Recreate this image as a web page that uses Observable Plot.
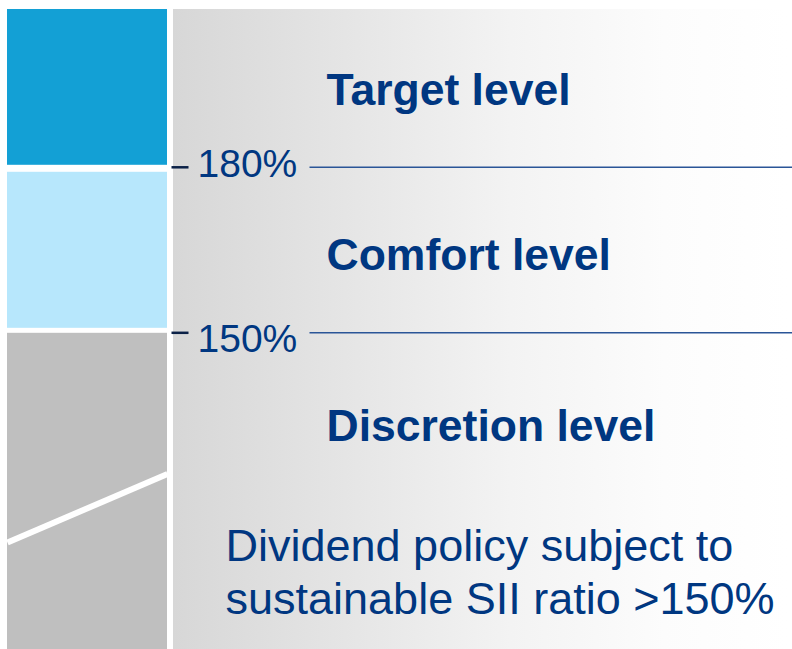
<!DOCTYPE html>
<html>
<head>
<meta charset="utf-8">
<script src="https://cdn.jsdelivr.net/npm/d3@7"></script>
<script src="https://cdn.jsdelivr.net/npm/@observablehq/plot@0.6"></script>
<style>
  html, body { margin: 0; padding: 0; background: #ffffff; }
  #chart svg { display: block; }
</style>
</head>
<body>
<div id="chart"></div>
<script>
// ---- data ----
const levels = ["Target level", "Comfort level", "Discretion level"];
const levelLow = [180, 150, 92.6];      // SII ratio (%) lower bound of each zone
const levelHigh = [208.6, 180, 150];    // SII ratio (%) upper bound of each zone
const levelLabelY = [193.8, 163.9, 132.9];
const thresholds = [180, 150];
const thresholdLabels = ["180%", "150%"];
const noteLines = ["Dividend policy subject to", "sustainable SII ratio >150%"];
const noteY = [111.3, 101.7];
const splitFrom = 112.0;  // diagonal split in discretion block (left end)
const splitTo = 124.4;    // (right end)

// ---- styling / layout ----
const W = 792, H = 649;
const blue = "#003781";
const zoneColors = ["#13A0D5", "#B7E7FC", "#BFBFBF"];
const insetsTop = [0, 5, 0.5];
const insetsBottom = [2, 4.5, 0];
const blockX1 = 7, blockX2 = 167;
const panelX1 = 173, panelX2 = 787;
const font = "'Liberation Sans', Arial, Helvetica, sans-serif";

const zones = levels.map((name, i) => ({name, low: levelLow[i], high: levelHigh[i], labelY: levelLabelY[i]}));
const ticks = thresholds.map((v, i) => ({value: v, label: thresholdLabels[i]}));
const notes = noteLines.map((t, i) => ({text: t, y: noteY[i]}));
const yTop = d3.max(levelHigh), yBottom = d3.min(levelLow);

const defs = () => {
  const g = d3.create("svg:g");
  const grad = g.append("defs").append("linearGradient")
    .attr("id", "panelGrad").attr("x1", "0%").attr("x2", "100%").attr("y1", "0%").attr("y2", "0%");
  grad.append("stop").attr("offset", "0%").attr("stop-color", "#D7D7D7");
  grad.append("stop").attr("offset", "30%").attr("stop-color", "#E6E6E6");
  grad.append("stop").attr("offset", "55%").attr("stop-color", "#F3F3F3");
  grad.append("stop").attr("offset", "80%").attr("stop-color", "#FCFCFC");
  grad.append("stop").attr("offset", "100%").attr("stop-color", "#FFFFFF");
  return g.node();
};

const zoneMarks = zones.map((z, i) => Plot.rect([z], {
  x1: () => blockX1, x2: () => blockX2,
  y1: "low", y2: "high",
  fill: zoneColors[i],
  insetTop: insetsTop[i], insetBottom: insetsBottom[i]
}));

const tickLabelDy = [-3, 7];

const chart = Plot.plot({
  width: W,
  height: H,
  marginTop: 9,
  marginBottom: 0,
  marginLeft: 0,
  marginRight: 0,
  x: {domain: [0, W], axis: null},
  y: {domain: [yBottom, yTop], axis: null},
  style: {background: "transparent", fontFamily: font, overflow: "visible"},
  marks: [
    defs,
    // gradient panel
    Plot.rect([{low: yBottom, high: yTop}], {
      x1: () => panelX1, x2: () => panelX2, y1: "low", y2: "high",
      fill: "url(#panelGrad)"
    }),
    ...zoneMarks,
    // diagonal split in discretion block
    Plot.link([{a: splitFrom, b: splitTo}], {
      x1: () => blockX1, x2: () => blockX2, y1: "a", y2: "b",
      stroke: "white", strokeWidth: 6
    }),
    // short tick marks
    Plot.link(ticks, {
      x1: () => 171, x2: () => 188, y1: "value", y2: "value",
      stroke: "#0B2147", strokeWidth: 2.5
    }),
    // long threshold lines
    Plot.link(ticks, {
      x1: () => 309, x2: () => W, y1: "value", y2: "value",
      stroke: "#2A5597", strokeWidth: 1.5
    }),
    // threshold labels
    ...ticks.map((t, i) => Plot.text([t], {
      x: () => 197, y: "value", text: "label",
      textAnchor: "start", lineAnchor: "middle",
      fontSize: 39, fill: blue, fontFamily: font, dy: tickLabelDy[i]
    })),
    // zone labels
    Plot.text(zones, {
      x: () => 326, y: "labelY", text: "name",
      textAnchor: "start", lineAnchor: "middle",
      fontSize: 44.5, fontWeight: "bold", fill: blue, fontFamily: font
    }),
    // note
    Plot.text(notes, {
      x: () => 225, y: "y", text: "text",
      textAnchor: "start", lineAnchor: "middle",
      fontSize: 45, fill: blue, fontFamily: font
    })
  ]
});

document.getElementById("chart").appendChild(chart);
</script>
</body>
</html>
